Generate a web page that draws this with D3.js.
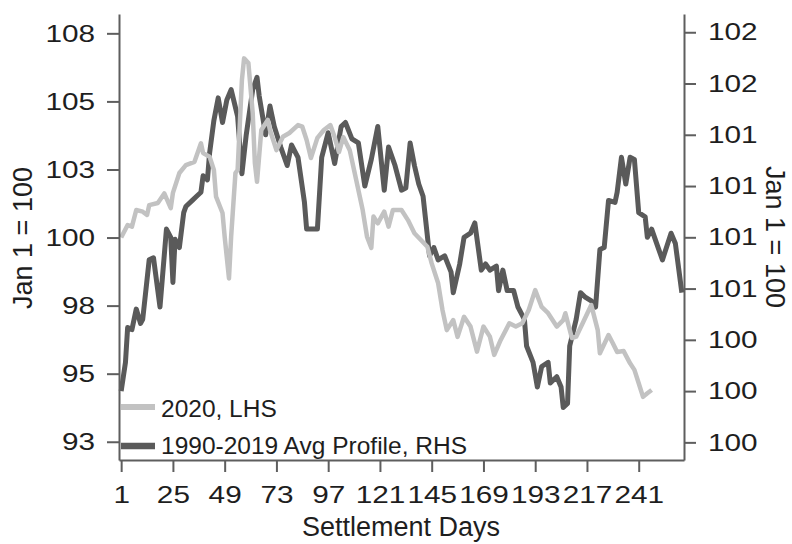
<!DOCTYPE html>
<html>
<head>
<meta charset="utf-8">
<script src="https://cdn.jsdelivr.net/npm/d3@7"></script>
<style>
  html, body { margin: 0; padding: 0; background: #fff; }
  svg { display: block; font-family: "Liberation Sans", Arial, sans-serif; }
</style>
</head>
<body>
<svg id="chart" width="792" height="544"></svg>
<script>
// ---- data ----
const days2020 = [1,4,6,8,11,13,14,18,21,24,25,28,31,35,38,39,42,44,45,48,49,51,52,54,55,57,58,60,62,63,64,66,69,70,73,76,79,83,85,87,89,92,95,98,100,102,104,107,110,113,115,117,118,120,123,125,127,131,134,137,140,143,145,148,150,152,155,157,160,163,166,169,172,174,177,181,184,187,190,193,196,199,203,206,207,210,212,215,219,222,223,227,229,231,234,237,239,241,243,245,247];
const values2020 = [100.00,100.46,100.40,101.01,100.95,100.83,101.19,101.27,101.62,101.08,101.64,102.37,102.66,102.78,103.46,103.10,102.97,102.48,101.50,100.90,100.03,98.50,100.03,102.37,102.48,105.79,106.58,106.41,104.57,102.74,102.05,103.95,104.32,103.95,103.21,103.70,103.84,104.13,104.07,103.58,102.92,103.66,103.95,104.13,103.69,103.14,103.69,103.21,102.11,101.01,100.03,99.62,100.77,100.52,100.95,100.40,101.01,101.01,100.64,100.16,99.91,99.66,99.05,98.32,97.34,96.60,96.97,96.35,97.09,96.73,95.81,96.73,96.36,95.69,96.24,96.85,96.73,96.85,97.34,98.07,97.45,97.22,96.73,96.97,97.22,96.31,96.36,96.85,97.52,96.60,95.75,96.42,96.12,95.80,95.83,95.38,95.14,94.65,94.15,94.28,94.40];

const daysAvg = [1,3,4,6,7,8,10,11,14,16,19,22,24,25,26,28,30,31,34,36,38,39,41,42,44,46,48,50,52,55,57,59,62,64,65,68,70,72,75,78,80,83,86,87,92,94,97,100,103,105,108,111,114,117,120,123,125,128,131,133,135,137,139,141,144,146,148,151,154,155,158,160,163,165,168,170,172,175,176,178,180,183,185,188,189,192,194,196,199,200,203,205,206,208,209,212,214,216,219,221,223,225,227,230,231,233,235,237,239,241,244,245,247,250,252,256,258,261];
const valuesAvg = [100.00,100.14,100.31,100.30,100.35,100.40,100.33,100.35,100.64,100.65,100.41,100.79,100.75,100.53,100.74,100.70,100.87,100.90,100.93,100.95,100.97,101.05,101.03,101.16,101.32,101.43,101.31,101.42,101.47,101.34,101.06,101.25,101.47,101.53,101.44,101.25,101.39,101.29,101.19,101.10,101.20,101.14,100.92,100.79,100.79,101.14,101.26,101.11,101.29,101.31,101.23,101.21,101.00,101.13,101.29,100.98,101.19,101.10,100.98,100.99,101.21,101.10,101.01,100.95,100.66,100.70,100.64,100.66,100.58,100.48,100.62,100.75,100.77,100.82,100.59,100.62,100.59,100.61,100.49,100.59,100.49,100.49,100.41,100.35,100.22,100.14,100.02,100.12,100.14,100.04,100.07,100.02,99.92,99.94,100.22,100.35,100.48,100.46,100.44,100.41,100.69,100.70,100.93,100.92,100.97,101.14,101.01,101.14,101.13,100.87,100.85,100.75,100.79,100.70,100.64,100.77,100.72,100.48];

const xTicks = [1,25,49,73,97,121,145,169,193,217,241];
const leftTicks = [92.5,95,97.5,100,102.5,105,107.5];
const rightTicks = [99.75,100,100.25,100.5,100.75,101,101.25,101.5,101.75];

const seriesNames = ["2020, LHS", "1990-2019 Avg Profile, RHS"];
const xTitle = "Settlement Days";
const yTitle = "Jan 1 = 100";

// ---- layout ----
const L = 119, R = 684, T = 14, B = 460;
const axisColor = "#5e5e5e";
const textColor = "#1e1e1e";
const lightColor = "#c2c2c2";
const darkColor = "#5a5a5a";
const tickScaleX = 1.24;

const svg = d3.select("#chart");

const x = d3.scaleLinear().domain([0, 262]).range([L, R]);
const yL = d3.scaleLinear().domain([91.83, 108.21]).range([B, T]);
const yR = d3.scaleLinear().domain([99.664, 101.839]).range([B, T]);

const fmt = v => String(Math.round(v));

// lines
const lineL = d3.line().x(d => x(d[0])).y(d => yL(d[1]));
const lineR = d3.line().x(d => x(d[0])).y(d => yR(d[1]));

svg.append("path")
  .datum(daysAvg.map((d, i) => [d, valuesAvg[i]]))
  .attr("d", lineR)
  .attr("fill", "none")
  .attr("stroke", darkColor)
  .attr("stroke-width", 5)
  .attr("stroke-linejoin", "round")
  .attr("stroke-linecap", "butt");

svg.append("path")
  .datum(days2020.map((d, i) => [d, values2020[i]]))
  .attr("d", lineL)
  .attr("fill", "none")
  .attr("stroke", lightColor)
  .attr("stroke-width", 4.5)
  .attr("stroke-linejoin", "round")
  .attr("stroke-linecap", "butt");

// axes
function styleAxis(g) {
  g.selectAll(".domain").attr("stroke", axisColor).attr("stroke-width", 2);
  g.selectAll(".tick line").attr("stroke", axisColor).attr("stroke-width", 2);
  g.selectAll(".tick text").attr("fill", textColor)
    .style("font-size", "24px")
    .style("font-family", '"Liberation Sans", Arial, sans-serif');
}

const gL = svg.append("g").attr("transform", `translate(${L},0)`)
  .call(d3.axisLeft(yL).tickValues(leftTicks).tickFormat(fmt).tickSize(12).tickSizeOuter(0).tickPadding(12));
styleAxis(gL);
gL.selectAll(".tick text").attr("x", -24 / tickScaleX).attr("transform", `scale(${tickScaleX},1)`);

const gR = svg.append("g").attr("transform", `translate(${R},0)`)
  .call(d3.axisRight(yR).tickValues(rightTicks).tickFormat(fmt).tickSize(12).tickSizeOuter(0).tickPadding(12));
styleAxis(gR);
gR.selectAll(".tick text").attr("x", 24 / tickScaleX).attr("transform", `scale(${tickScaleX},1)`);

const gB = svg.append("g").attr("transform", `translate(0,${B})`)
  .call(d3.axisBottom(x).tickValues(xTicks).tickFormat(d3.format("d")).tickSize(12).tickSizeOuter(0).tickPadding(14));
styleAxis(gB);
// text sits at x=0 inside each translated tick group, so scaling keeps it centred
gB.selectAll(".tick text").attr("transform", `scale(${tickScaleX},1)`);

// titles
svg.append("text")
  .attr("transform", `translate(23,238) rotate(-90)`)
  .attr("text-anchor", "middle")
  .attr("dominant-baseline", "central")
  .attr("fill", textColor)
  .style("font-size", "27px")
  .text(yTitle);

svg.append("text")
  .attr("transform", `translate(775,237) rotate(90)`)
  .attr("text-anchor", "middle")
  .attr("dominant-baseline", "central")
  .attr("fill", textColor)
  .style("font-size", "27px")
  .text(yTitle);

svg.append("text")
  .attr("x", 401)
  .attr("y", 536)
  .attr("text-anchor", "middle")
  .attr("fill", textColor)
  .style("font-size", "27px")
  .text(xTitle);

// legend
const legendColors = [lightColor, darkColor];
const legendY = [407, 446];
const legendBase = [416.5, 454];
seriesNames.forEach((name, i) => {
  svg.append("line")
    .attr("x1", 121).attr("x2", 155)
    .attr("y1", legendY[i]).attr("y2", legendY[i])
    .attr("stroke", legendColors[i])
    .attr("stroke-width", i === 0 ? 6 : 6.5);
  svg.append("text")
    .attr("x", 161)
    .attr("y", legendBase[i])
    .attr("fill", textColor)
    .style("font-size", "24.5px")
    .text(name);
});
</script>
</body>
</html>
